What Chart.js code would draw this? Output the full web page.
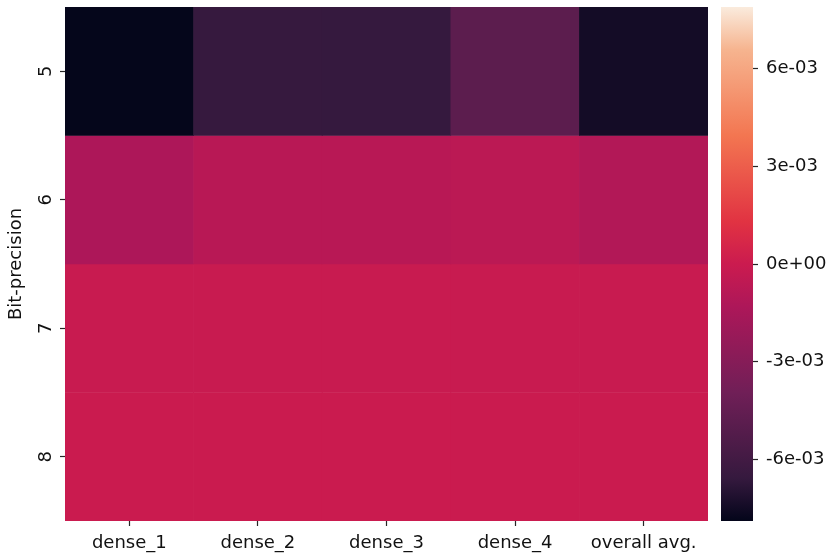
<!DOCTYPE html>
<html>
<head>
<meta charset="utf-8">
<script src="https://cdn.jsdelivr.net/npm/chart.js@4"></script>
<style>
  body { margin: 0; background: #fff; }
  #wrap { position: relative; width: 831px; height: 558px; }
  #heat { position: absolute; left: 0; top: 0; }
  #cbar { position: absolute; left: 710px; top: 0; }
</style>
</head>
<body>
<div id="wrap">
  <canvas id="heat" width="710" height="558"></canvas>
  <canvas id="cbar" width="121" height="558"></canvas>
</div>
<script>
const layers = ['dense_1', 'dense_2', 'dense_3', 'dense_4', 'overall avg.'];
const bits = [5, 6, 7, 8];

// one row per bit-precision
const bit5 = [-7.85e-3, -6.55e-3, -6.6e-3, -4.85e-3, -7.45e-3];
const bit6 = [-1.31e-3, -0.83e-3, -0.83e-3, -0.70e-3, -1.09e-3];
const bit7 = [-0.13e-3, -0.13e-3, -0.13e-3, -0.12e-3, -0.13e-3];
const bit8 = [-0.05e-3, -0.05e-3, -0.05e-3, -0.05e-3, -0.05e-3];
const rows = [bit5, bit6, bit7, bit8];

const vmin = -7.9e-3, vmax = 7.9e-3;
const cbTicks = [-6e-3, -3e-3, 0, 3e-3, 6e-3];

// seaborn "rocket" colormap, approximated by a few stops
const rocket = [
  [0, '#03051a'], [0.083, '#35193e'], [0.25, '#701f57'], [0.417, '#ad1759'],
  [0.5, '#cb1b4f'], [0.583, '#e13342'], [0.75, '#f37651'], [0.917, '#f6b48f'], [1, '#faebdd']
];

function hex2rgb(h) {
  return [1, 3, 5].map(i => parseInt(h.slice(i, i + 2), 16));
}

function shade(v) {
  let t = (v - vmin) / (vmax - vmin);
  t = Math.max(0, Math.min(1, t));
  for (let i = 1; i < rocket.length; i++) {
    if (t <= rocket[i][0]) {
      const [t0, c0] = rocket[i - 1], [t1, c1] = rocket[i];
      const f = (t - t0) / (t1 - t0);
      const a = hex2rgb(c0), b = hex2rgb(c1);
      const c = a.map((x, k) => Math.round(x + (b[k] - x) * f));
      return 'rgb(' + c.join(',') + ')';
    }
  }
  return rocket[rocket.length - 1][1];
}

function fmt(v) {
  const [m, e] = v.toExponential(0).split('e');
  return m + 'e' + e[0] + e.slice(1).padStart(2, '0');
}

// keep the plot box where the reference has it: no extra room for edge labels
function noEdgePad(s) {
  s.paddingTop = 0; s.paddingBottom = 0; s.paddingLeft = 0; s.paddingRight = 0;
}

Chart.defaults.font.family = 'DejaVu Sans';
Chart.defaults.font.size = 18;
Chart.defaults.color = '#111';

const tickGrid = {
  drawOnChartArea: false,
  drawTicks: true,
  tickLength: 5,
  tickColor: '#262626',
  tickWidth: 1.2
};

new Chart(document.getElementById('heat'), {
  type: 'bar',
  data: {
    labels: layers,
    datasets: rows.map((vals, r) => ({
      data: vals.map(() => [bits[r] - 0.5, bits[r] + 0.5]),
      backgroundColor: vals.map(shade),
      grouped: false,
      barPercentage: 1,
      categoryPercentage: 1,
      borderWidth: 0
    }))
  },
  options: {
    responsive: false,
    animation: false,
    layout: { padding: { top: 7, right: 2, left: 0, bottom: 0 } },
    plugins: { legend: { display: false }, tooltip: { enabled: false } },
    scales: {
      x: {
        grid: Object.assign({ offset: false }, tickGrid),
        border: { display: false },
        ticks: { padding: 7, maxRotation: 0 },
        afterFit: s => { s.height = 37; noEdgePad(s); }
      },
      y: {
        type: 'linear',
        reverse: true,
        min: 4.5,
        max: 8.5,
        afterBuildTicks: s => { s.ticks = bits.map(v => ({ value: v })); },
        ticks: { minRotation: 90, maxRotation: 90, crossAlign: 'center', padding: 8 },
        grid: tickGrid,
        border: { display: false },
        title: { display: true, text: 'Bit-precision', padding: { top: 6, bottom: 0 } },
        afterFit: s => { s.width = 65; noEdgePad(s); }
      }
    }
  }
});

new Chart(document.getElementById('cbar'), {
  type: 'bar',
  data: {
    labels: ['scale'],
    datasets: [{
      data: [[vmin, vmax]],
      backgroundColor: c => {
        const chart = c.chart;
        const y = chart.scales.y;
        if (!chart.chartArea || !y) return shade(0);
        const g = chart.ctx.createLinearGradient(0, y.getPixelForValue(vmin), 0, y.getPixelForValue(vmax));
        rocket.forEach(([t, col]) => g.addColorStop(t, col));
        return g;
      },
      barPercentage: 1,
      categoryPercentage: 1,
      borderWidth: 0
    }]
  },
  options: {
    responsive: false,
    animation: false,
    layout: { padding: { top: 7, left: 11, right: 0, bottom: 37 } },
    plugins: { legend: { display: false }, tooltip: { enabled: false } },
    scales: {
      x: { display: false },
      y: {
        position: 'right',
        min: vmin,
        max: vmax,
        afterBuildTicks: s => { s.ticks = cbTicks.map(v => ({ value: v })); },
        ticks: { callback: v => fmt(v), padding: 8 },
        grid: tickGrid,
        border: { display: false },
        afterFit: s => { s.width = 78; noEdgePad(s); }
      }
    }
  }
});
</script>
</body>
</html>
